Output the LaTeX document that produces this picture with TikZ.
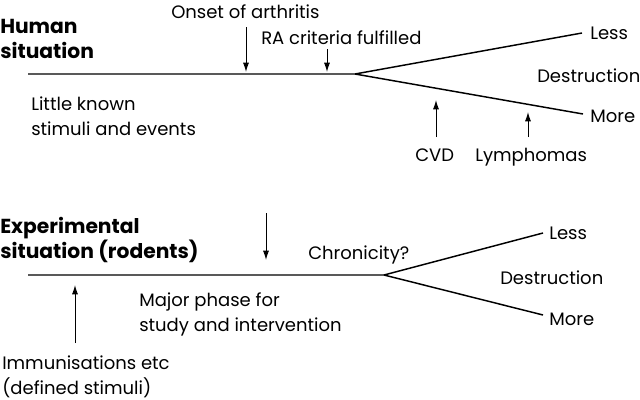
\documentclass[tikz,border=0pt]{standalone}
\usepackage{fontspec}
\setmainfont{Poppins}
\usetikzlibrary{arrows.meta}

\tikzset{
  lbl/.style={anchor=base west, inner sep=0pt, align=left,
    font=\fontsize{13.5}{18.4}\selectfont},
  head/.style={lbl, font=\fontsize{15.2}{18.4}\selectfont\bfseries},
  stem/.style={line width=1.1pt},
  pointer/.style={line width=0.7pt, -{Latex[length=7pt,width=4.5pt]}},
}

\begin{document}
\begin{tikzpicture}[x=0.75pt,y=-0.75pt]
    \useasboundingbox (0,0) rectangle (640,400);

    % human situation
    \coordinate(hstart) at (28,74);
    \coordinate(hfork) at (355,74);
    \coordinate(hless) at (582,33);
    \coordinate(hmore) at (583,114);

    \coordinate(onsettail) at (246,27);
    \coordinate(onsettip) at (246,72);
    \coordinate(ratail) at (327,49);
    \coordinate(ratip) at (327,72);
    \coordinate(cvdtail) at (436,137);
    \coordinate(cvdtip) at (436,100);
    \coordinate(lymtail) at (528,137);
    \coordinate(lymtip) at (528,112);

    \node[head](human) at (0,58){Human\\situation};
    \node[lbl](onset) at (171,18){Onset of arthritis};
    \node[lbl](racrit) at (261,44){RA criteria fulfilled};
    \node[lbl](hlessl) at (590,39){Less};
    \node[lbl](hdest) at (537,82){Destruction};
    \node[lbl](hmorel) at (590,122){More};
    \node[lbl](little) at (31,135){Little known\\stimuli and events};
    \node[lbl](cvd) at (415,161){CVD};
    \node[lbl](lymph) at (475,161){Lymphomas};

    \draw[stem] (hstart) -- (hfork) -- (hless);
    \draw[stem] (hfork) -- (hmore);

    \draw[pointer] (onsettail) -- (onsettip);
    \draw[pointer] (ratail) -- (ratip);
    \draw[pointer] (cvdtail) -- (cvdtip);
    \draw[pointer] (lymtail) -- (lymtip);

    % experimental situation
    \coordinate(estart) at (28,275);
    \coordinate(efork) at (384,275);
    \coordinate(eless) at (543,233);
    \coordinate(emore) at (543,315);

    \coordinate(chrontail) at (266,213);
    \coordinate(chrontip) at (266,260);
    \coordinate(immtail) at (75,343);
    \coordinate(immtip) at (75,285);

    \node[head](exper) at (0,258){Experimental\\situation (rodents)};
    \node[lbl](chron) at (308,259){Chronicity?};
    \node[lbl](elessl) at (549,239){Less};
    \node[lbl](edest) at (500,284){Destruction};
    \node[lbl](emorel) at (549,325){More};
    \node[lbl](major) at (139,331){Major phase for\\study and intervention};
    \node[lbl](immun) at (2,394){Immunisations etc\\(defined stimuli)};

    \draw[stem] (estart) -- (efork) -- (eless);
    \draw[stem] (efork) -- (emore);

    \draw[pointer] (chrontail) -- (chrontip);
    \draw[pointer] (immtail) -- (immtip);

  \end{tikzpicture}
\end{document}
